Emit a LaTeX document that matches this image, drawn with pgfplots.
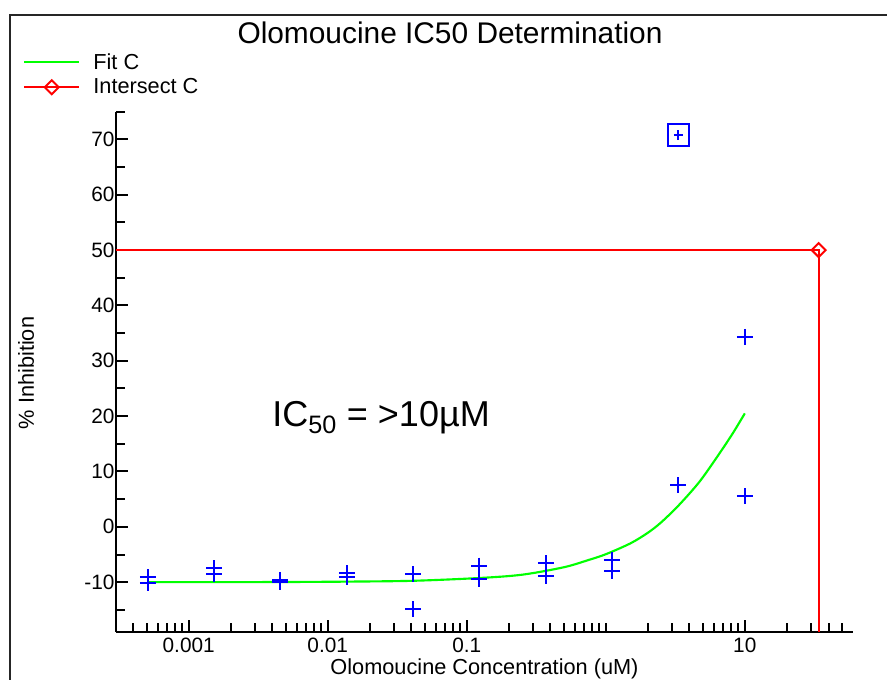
\documentclass[border=0pt]{standalone}
\usepackage{fontspec}
\setmainfont{Liberation Sans}
\usepackage{pgfplots}
\pgfplotsset{compat=1.18}

\definecolor{fitgreen}{RGB}{0,255,0}
\definecolor{ptblue}{RGB}{0,0,255}
\definecolor{isred}{RGB}{255,0,0}

\newcommand{\ticksize}{\fontsize{15.6}{18}\selectfont}
\newcommand{\labsize}{\fontsize{16.3}{19}\selectfont}

\begin{document}
\begin{tikzpicture}
% 1 unit = 0.75pt; origin at the lower-left corner of the axis box
\useasboundingbox (-116*0.75pt,-48*0.75pt) rectangle (771*0.75pt,632*0.75pt);
\begin{axis}[
  at={(0pt,0pt)}, anchor=south west,
  scale only axis,
  width=552.75pt, height=390.2pt,
  xmode=log,
  xmin=0.0003, xmax=60,
  ymin=-19, ymax=75,
  clip=false,
  axis x line=bottom, axis y line=left,
  axis line style={line width=1.5pt,-},
  tick align=inside,
  major tick length=9.3pt, minor tick length=6.6pt,
  tick style={black,line width=1.5pt},
  xtick={0.001,0.01,0.1,10},
  xticklabels={0.001,0.01,0.1,10},
  minor xtick={0.0004,0.0005,0.0006,0.0007,0.0008,0.0009,
               0.002,0.003,0.004,0.005,0.006,0.007,0.008,0.009,
               0.02,0.03,0.04,0.05,0.06,0.07,0.08,0.09,
               0.2,0.3,0.4,0.5,0.6,0.7,0.8,0.9,1,
               2,3,4,5,6,7,8,9,20,30,40,50},
  ytick={-10,0,...,70},
  minor ytick={-15,-5,...,75},
  /pgf/number format/assume math mode=true,
  tick label style={font=\ticksize},
  yticklabel style={anchor=east, inner sep=0pt, xshift=-1pt},
  xticklabel style={anchor=north, inner sep=0pt, yshift=-4.5pt},
  legend style={draw=none, fill=none,
    at={(axis description cs:-0.1262,1.1196)}, anchor=north west,
    inner sep=0pt, row sep=0pt,
    nodes={inner sep=0pt, anchor=west, minimum height=18.75pt, font=\labsize}},
  legend image code/.code={%
    \draw[mark repeat=2,mark phase=2,#1] plot coordinates {(0pt,0pt) (20.6pt,0pt) (41.25pt,0pt)};
    \path (51pt,0pt);},
]

% fitted dose-response curve
\addplot[fitgreen, line width=1.6pt, smooth, no marks] coordinates {
  (0.000508,-10.0) (0.0015,-9.99) (0.0046,-9.97) (0.0137,-9.9)
  (0.041,-9.75) (0.122,-9.25) (0.25,-8.65) (0.5,-7.3)
  (0.75,-6.0) (1.0,-4.95) (1.5,-3.0) (2.0,-1.1) (2.5,0.8)
  (3.35,3.9) (4.67,8.0) (6.15,12.2) (8.1,16.7) (10,20.5)
};
\addlegendentry{Fit C}

% measured inhibition, duplicate wells
\addplot[only marks, mark=+, mark size=6pt, ptblue, line width=1.5pt, forget plot] coordinates {
  (0.00050805,-9.15) (0.00050805,-10.2)
  (0.0015242,-7.5)   (0.0015242,-8.6)
  (0.0045725,-9.6)   (0.0045725,-10.05)
  (0.013717,-8.4)    (0.013717,-9.0)
  (0.041152,-8.55)   (0.041152,-14.9)
  (0.123457,-7.0)    (0.123457,-9.4)
  (0.37037,-6.6)     (0.37037,-8.8)
  (1.1111,-6.05)     (1.1111,-8.0)
  (3.3333,7.55)
  (10,34.3)          (10,5.55)
};

% excluded point
\addplot[only marks, mark=square, mark size=7.9pt, ptblue, line width=1.5pt, forget plot] coordinates {(3.3333,70.8)};
\addplot[only marks, mark=+, mark size=3.4pt, ptblue, line width=1.5pt, forget plot] coordinates {(3.3333,70.8)};

% 50 % intersection
\addplot[isred, line width=1.5pt, mark=square, mark indices={2},
  mark size=3.7pt, mark options={rotate=45, solid}] coordinates {
  (0.0003,50) (34,50) (34,-19)
};
\addlegendentry{Intersect C}
\end{axis}

\begin{scope}[x=0.75pt,y=0.75pt]
  \draw[line width=1.5pt, black!85] (-106,-48) -- (-106,617) -- (771,617);
  \node[anchor=base, inner sep=0pt, font=\fontsize{22.4}{26}\selectfont] at (334,588) {Olomoucine IC50 Determination};
  \node[anchor=base, inner sep=0pt, font=\labsize] at (368.5,-42.5) {Olomoucine Concentration (uM)};
  \node[anchor=base, inner sep=0pt, rotate=90, font=\labsize] at (-82,259) {\% Inhibition};
  \node[anchor=base west, inner sep=0pt, font=\fontsize{27}{32}\selectfont] at (156,205) {IC\textsubscript{50} = >10µM};
\end{scope}
\end{tikzpicture}
\end{document}
